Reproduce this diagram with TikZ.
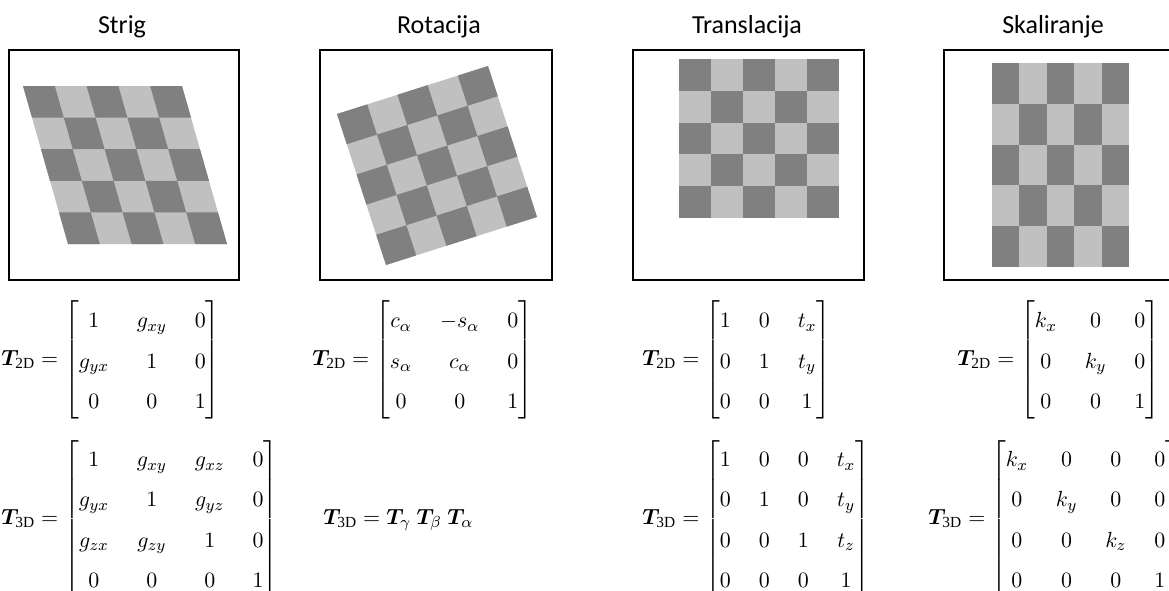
\documentclass[tikz,border=0pt]{standalone}
\usepackage{amsmath}
\usepackage{fontspec}
\setmainfont{Liberation Serif}
\newfontfamily\titlefont{Carlito}
\usepackage{bm}
\definecolor{darkcell}{RGB}{128,128,128}
\definecolor{lightcell}{RGB}{192,192,192}
\renewcommand{\arraystretch}{1.54}
\setlength{\arraycolsep}{7pt}
% 5x5 checkerboard in the current x/y vectors
\newcommand{\chessboard}{%
  \fill[lightcell] (0,0) -- (5,0) -- (5,5) -- (0,5) -- cycle;
  \foreach \i in {0,...,4}{
    \foreach \j in {0,...,4}{
      \pgfmathtruncatemacro{\cellpar}{mod(\i+\j,2)}
      \ifnum\cellpar=0 \fill[darkcell] (\i,\j) -- ++(1,0) -- ++(0,1) -- ++(-1,0) -- cycle; \fi
    }
  }%
}

\begin{document}
\begin{tikzpicture}[
    x=0.5pt, y=-0.5pt,
    title/.style={font=\titlefont\fontsize{13}{15}\selectfont},
    frame/.style={draw, line width=1pt},
    eq/.style={anchor=west, inner sep=0pt, font=\fontsize{11}{13}\selectfont}
]
    \clip (0,0) rectangle (1169,590);

    % Strig
    \node[title] (strig_title) at (122,27) {Strig};
    \draw[frame] (9,50) rectangle (239,280);
    \begin{scope}[shift={(23,86)}, x={(15.9pt,0pt)}, y={(4.5pt,-15.8pt)}]
        \chessboard
    \end{scope}
    \node[eq] (strig_2d) at (1,360) {$\bm{T}_{\mathrm{2D}} =\begin{bmatrix} 1 & g_{xy} & 0\\ g_{yx} & 1 & 0\\ 0 & 0 & 1\end{bmatrix}$};
    \node[eq] (strig_3d) at (1,519) {$\bm{T}_{\mathrm{3D}} =\begin{bmatrix} 1 & g_{xy} & g_{xz} & 0\\ g_{yx} & 1 & g_{yz} & 0\\ g_{zx} & g_{zy} & 1 & 0\\ 0 & 0 & 0 & 1\end{bmatrix}$};

    % Rotacija
    \node[title] (rot_title) at (439,27) {Rotacija};
    \draw[frame] (320,50) rectangle (552,280);
    \begin{scope}[shift={(337,114)}, x={(15.1pt,4.8pt)}, y={(4.9pt,-15.1pt)}]
        \chessboard
    \end{scope}
    \node[eq] (rot_2d) at (312,360) {$\bm{T}_{\mathrm{2D}} =\begin{bmatrix} c_\alpha & -s_\alpha & 0\\ s_\alpha & c_\alpha & 0\\ 0 & 0 & 1\end{bmatrix}$};
    \node[eq] (rot_3d) at (323,520) {$\bm{T}_{\mathrm{3D}} = \bm{T}_\gamma\ \bm{T}_\beta\ \bm{T}_\alpha$};

    % Translacija
    \node[title] (trans_title) at (747,27) {Translacija};
    \draw[frame] (633,50) rectangle (864,280);
    \begin{scope}[shift={(679,59)}, x={(16pt,0pt)}, y={(0pt,-15.9pt)}]
        \chessboard
    \end{scope}
    \node[eq] (trans_2d) at (642,360) {$\bm{T}_{\mathrm{2D}} =\begin{bmatrix} 1 & 0 & t_x\\ 0 & 1 & t_y\\ 0 & 0 & 1\end{bmatrix}$};
    \node[eq] (trans_3d) at (642,519) {$\bm{T}_{\mathrm{3D}} =\begin{bmatrix} 1 & 0 & 0 & t_x\\ 0 & 1 & 0 & t_y\\ 0 & 0 & 1 & t_z\\ 0 & 0 & 0 & 1\end{bmatrix}$};

    % Skaliranje
    \node[title] (skal_title) at (1053,27) {Skaliranje};
    \draw[frame] (944,50) rectangle (1175,280);
    \begin{scope}[shift={(992,63)}, x={(13.7pt,0pt)}, y={(0pt,-20.4pt)}]
        \chessboard
    \end{scope}
    \node[eq] (skal_2d) at (957,360) {$\bm{T}_{\mathrm{2D}} =\begin{bmatrix} k_x & 0 & 0\\ 0 & k_y & 0\\ 0 & 0 & 1\end{bmatrix}$};
    \node[eq] (skal_3d) at (928,519) {$\bm{T}_{\mathrm{3D}} =\begin{bmatrix} k_x & 0 & 0 & 0\\ 0 & k_y & 0 & 0\\ 0 & 0 & k_z & 0\\ 0 & 0 & 0 & 1\end{bmatrix}$};
\end{tikzpicture}
\end{document}
